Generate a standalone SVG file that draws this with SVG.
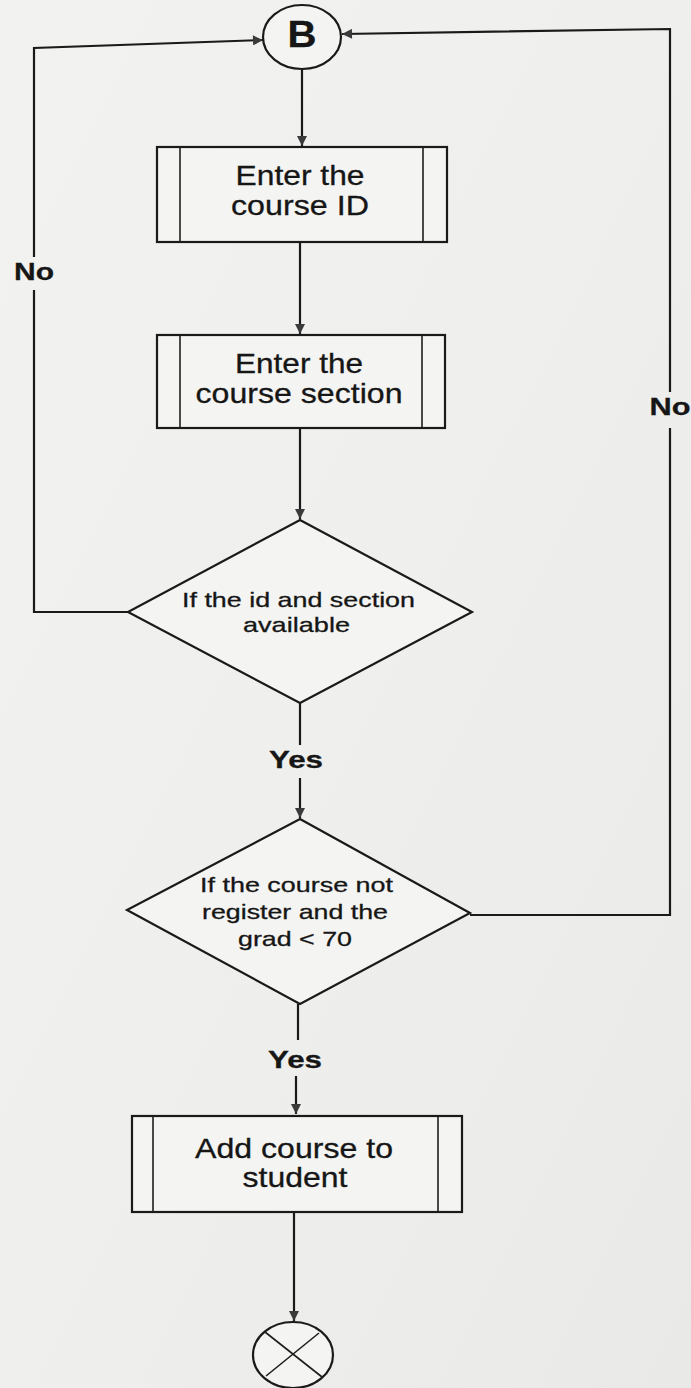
<svg xmlns="http://www.w3.org/2000/svg" width="691" height="1388" viewBox="0 0 691 1388">
  <defs>
    <linearGradient id="paper" x1="0" y1="0" x2="1" y2="1">
      <stop offset="0" stop-color="#f2f2f0"/>
      <stop offset="0.5" stop-color="#efefed"/>
      <stop offset="1" stop-color="#e9e9e7"/>
    </linearGradient>
    <marker id="arrow" viewBox="0 0 10 10" refX="10" refY="5" markerWidth="11" markerHeight="10" markerUnits="userSpaceOnUse" orient="auto">
      <path d="M0,0 L10,5 L0,10 Z" fill="#3a3a3a"/>
    </marker>
    <style>
      .shape { fill: #f4f4f2; stroke: #1a1a1a; stroke-width: 2.2; }
      .rule { fill: none; stroke: #1e1e1e; stroke-width: 1.6; }
      .link { fill: none; stroke: #1a1a1a; stroke-width: 2.2; }
      .txt { font-family: "Liberation Sans", Arial, sans-serif; fill: #161616; stroke: #161616; stroke-width: 0.3; text-anchor: middle; }
      .box { font-size: 28px; }
      .cond { font-size: 21px; }
      .lbl { font-size: 24px; font-weight: bold; }
    </style>
  </defs>

  <rect x="0" y="0" width="691" height="1388" fill="url(#paper)"/>

  <!-- connectors -->
  <g id="connectors">
    <path class="link" d="M302,69 L302,146" marker-end="url(#arrow)"/>
    <path class="link" d="M300,242 L300,334" marker-end="url(#arrow)"/>
    <path class="link" d="M300,428 L300,519" marker-end="url(#arrow)"/>
    <path class="link" d="M300,703 L300,745"/>
    <path class="link" d="M300,778 L300,818" marker-end="url(#arrow)"/>
    <path class="link" d="M298,1004 L298,1040"/>
    <path class="link" d="M296,1076 L296,1114" marker-end="url(#arrow)"/>
    <path class="link" d="M294,1212 L294,1321" marker-end="url(#arrow)"/>
    <!-- No branch, left side -->
    <path class="link" d="M128,612 L34,612 L34,290"/>
    <path class="link" d="M34,257 L34,48 L263,40" marker-end="url(#arrow)"/>
    <!-- No branch, right side -->
    <path class="link" d="M470,915 L670,915 L670,428"/>
    <path class="link" d="M670,392 L670,29 L342,34" marker-end="url(#arrow)"/>
    <text class="txt lbl" x="34" y="280" font-size="21" textLength="40" lengthAdjust="spacingAndGlyphs">No</text>
    <text class="txt lbl" x="670" y="415" font-size="21" textLength="41" lengthAdjust="spacingAndGlyphs">No</text>
    <text class="txt lbl" x="296" y="768" textLength="54" lengthAdjust="spacingAndGlyphs">Yes</text>
    <text class="txt lbl" x="295" y="1068" textLength="54" lengthAdjust="spacingAndGlyphs">Yes</text>
  </g>

  <!-- connector B -->
  <g id="node-b">
    <ellipse class="shape" cx="302" cy="37" rx="39" ry="32"/>
    <text class="txt" x="302" y="47" font-size="36" font-weight="bold" textLength="29" lengthAdjust="spacingAndGlyphs">B</text>
  </g>

  <!-- predefined process: course ID -->
  <g id="node-course-id">
    <rect class="shape" x="157" y="147" width="290" height="95"/>
    <line class="rule" x1="180" y1="147" x2="180" y2="242"/>
    <line class="rule" x1="423" y1="147" x2="423" y2="242"/>
    <text class="txt box" x="300" y="185" textLength="129" lengthAdjust="spacingAndGlyphs">Enter the</text>
    <text class="txt box" x="300" y="215" textLength="138" lengthAdjust="spacingAndGlyphs">course ID</text>
  </g>

  <!-- predefined process: course section -->
  <g id="node-course-section">
    <rect class="shape" x="157" y="335" width="288" height="93"/>
    <line class="rule" x1="180" y1="335" x2="180" y2="428"/>
    <line class="rule" x1="422" y1="335" x2="422" y2="428"/>
    <text class="txt box" x="299" y="373" textLength="128" lengthAdjust="spacingAndGlyphs">Enter the</text>
    <text class="txt box" x="299" y="403" textLength="207" lengthAdjust="spacingAndGlyphs">course section</text>
  </g>

  <!-- decision: id and section -->
  <g id="node-check-available">
    <polygon class="shape" points="300,520 472,612 300,703 128,612"/>
    <text class="txt cond" x="298.5" y="607" textLength="233" lengthAdjust="spacingAndGlyphs">If the id and section</text>
    <text class="txt cond" x="296.5" y="632" textLength="107" lengthAdjust="spacingAndGlyphs">available</text>
  </g>

  <!-- decision: not registered and grade -->
  <g id="node-check-grade">
    <polygon class="shape" points="300,819 470,913 300,1004 127,910"/>
    <text class="txt cond" x="296.5" y="892" textLength="193" lengthAdjust="spacingAndGlyphs">If the course not</text>
    <text class="txt cond" x="295" y="919" textLength="186" lengthAdjust="spacingAndGlyphs">register and the</text>
    <text class="txt cond" x="295" y="946" textLength="114" lengthAdjust="spacingAndGlyphs">grad &lt; 70</text>
  </g>

  <!-- predefined process: add course -->
  <g id="node-add-course">
    <rect class="shape" x="132" y="1116" width="330" height="96"/>
    <line class="rule" x1="153" y1="1116" x2="153" y2="1212"/>
    <line class="rule" x1="438" y1="1116" x2="438" y2="1212"/>
    <text class="txt box" x="294" y="1158" textLength="198" lengthAdjust="spacingAndGlyphs">Add course to</text>
    <text class="txt box" x="295" y="1187" textLength="105" lengthAdjust="spacingAndGlyphs">student</text>
  </g>

  <!-- end -->
  <g id="node-end">
    <ellipse class="shape" cx="293" cy="1355" rx="40" ry="33"/>
    <line class="rule" x1="265" y1="1332" x2="322" y2="1377"/>
    <line class="rule" x1="319" y1="1333" x2="266" y2="1376"/>
  </g>
</svg>
